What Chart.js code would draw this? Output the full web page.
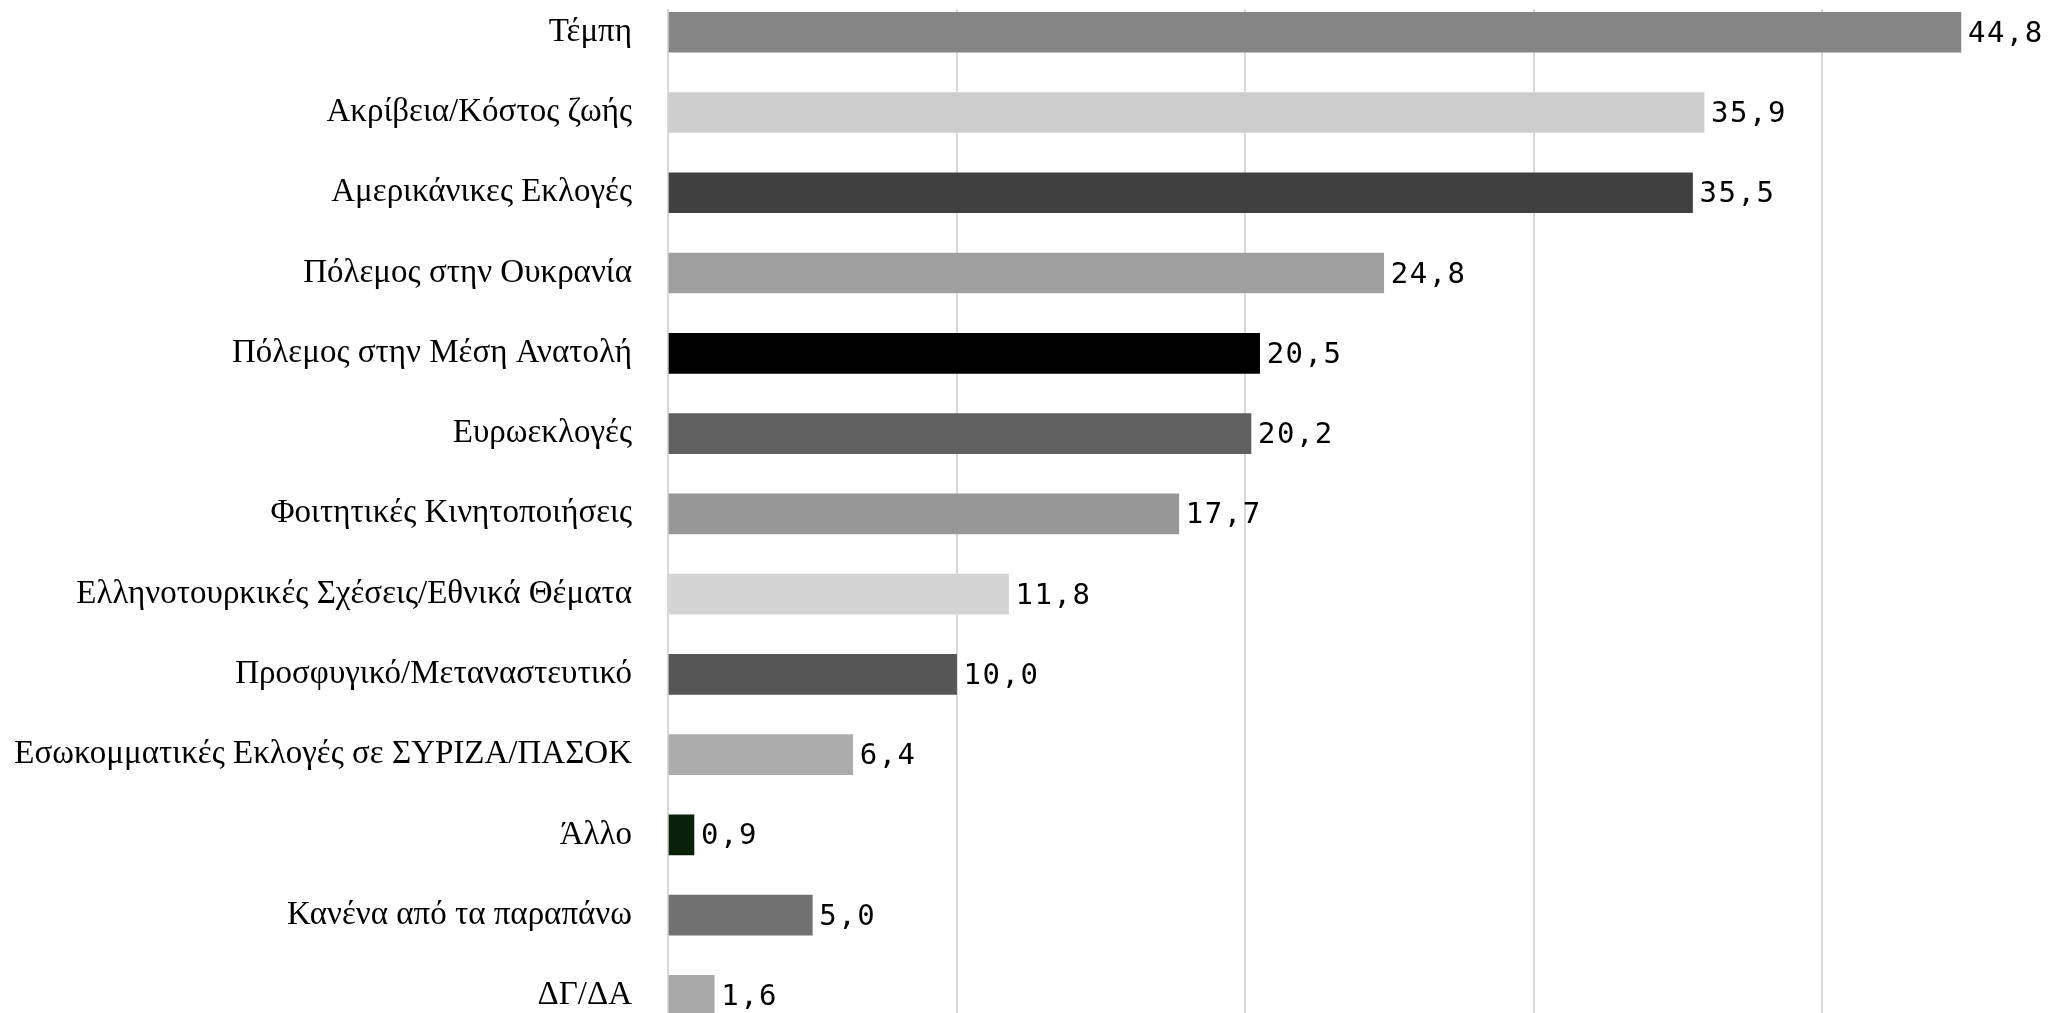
<!DOCTYPE html>
<html>
<head>
<meta charset="utf-8">
<script src="https://cdn.jsdelivr.net/npm/chart.js@4"></script>
<style>
html,body{margin:0;padding:0;background:#fff;overflow:hidden;width:2048px;height:1013px;}
#wrap{position:absolute;left:0;top:0;width:2111px;height:1013px;}
</style>
</head>
<body>
<div id="wrap"><canvas id="c"></canvas></div>
<script>
const categories = [
  "Τέμπη",
  "Ακρίβεια/Κόστος ζωής",
  "Αμερικάνικες Εκλογές",
  "Πόλεμος στην Ουκρανία",
  "Πόλεμος στην Μέση Ανατολή",
  "Ευρωεκλογές",
  "Φοιτητικές Κινητοποιήσεις",
  "Ελληνοτουρκικές Σχέσεις/Εθνικά Θέματα",
  "Προσφυγικό/Μεταναστευτικό",
  "Εσωκομματικές Εκλογές σε ΣΥΡΙΖΑ/ΠΑΣΟΚ",
  "Άλλο",
  "Κανένα από τα παραπάνω",
  "ΔΓ/ΔΑ"
];
const values = [44.8, 35.9, 35.5, 24.8, 20.5, 20.2, 17.7, 11.8, 10.0, 6.4, 0.9, 5.0, 1.6];
const barColors = ["#868686","#cdcdcd","#404040","#9f9f9f","#000000","#5f5f5f","#979797",
                   "#d3d3d3","#565656","#acacac","#082108","#717171","#a8a8a8"];

const points = values.map((v, i) => ({x: v, y: i}));

const valueLabels = {
  id: 'valueLabels',
  afterDatasetsDraw(chart) {
    const ctx = chart.ctx;
    const meta = chart.getDatasetMeta(0);
    ctx.save();
    ctx.font = '29px "DejaVu Sans Mono", monospace';
    try { ctx.letterSpacing = '1.5px'; } catch (e) {}
    ctx.fillStyle = '#000';
    ctx.textAlign = 'left';
    ctx.textBaseline = 'middle';
    meta.data.forEach((bar, i) => {
      const txt = values[i].toFixed(1).replace('.', ',');
      ctx.fillText(txt, bar.x + 7, bar.y + 2);
    });
    ctx.restore();
  }
};

new Chart(document.getElementById('c'), {
  type: 'bar',
  data: {
    datasets: [{
      data: points,
      backgroundColor: barColors,
      barThickness: 40,
      borderWidth: 0
    }]
  },
  options: {
    indexAxis: 'y',
    responsive: true,
    maintainAspectRatio: false,
    animation: false,
    layout: {padding: {top: 9, left: 0, right: 0, bottom: 0}},
    plugins: {legend: {display: false}, tooltip: {enabled: false}},
    scales: {
      x: {
        type: 'linear',
        min: 0,
        max: 50,
        offset: false,
        ticks: {display: false, stepSize: 10},
        grid: {color: '#d9d9d9', lineWidth: 2, drawTicks: false},
        border: {display: false},
        afterFit(scale) { scale.height = 0; scale.paddingLeft = 0; scale.paddingRight = 0; }
      },
      y: {
        type: 'linear',
        reverse: true,
        offset: false,
        min: -0.29,
        max: 12.22,
        grid: {display: false, drawTicks: false, offset: false},
        border: {display: false},
        ticks: {
          padding: 36,
          color: '#000',
          font: {family: '"Liberation Serif", serif', size: 33},
          callback: (v) => categories[v] !== undefined ? categories[v] : ''
        },
        afterBuildTicks(scale) {
          scale.ticks = categories.map((_, i) => ({value: i}));
        },
        afterFit(scale) {
          scale.width = 668;
          scale.paddingTop = 0;
          scale.paddingBottom = 0;
        }
      }
    }
  },
  plugins: [valueLabels]
});
</script>
</body>
</html>
